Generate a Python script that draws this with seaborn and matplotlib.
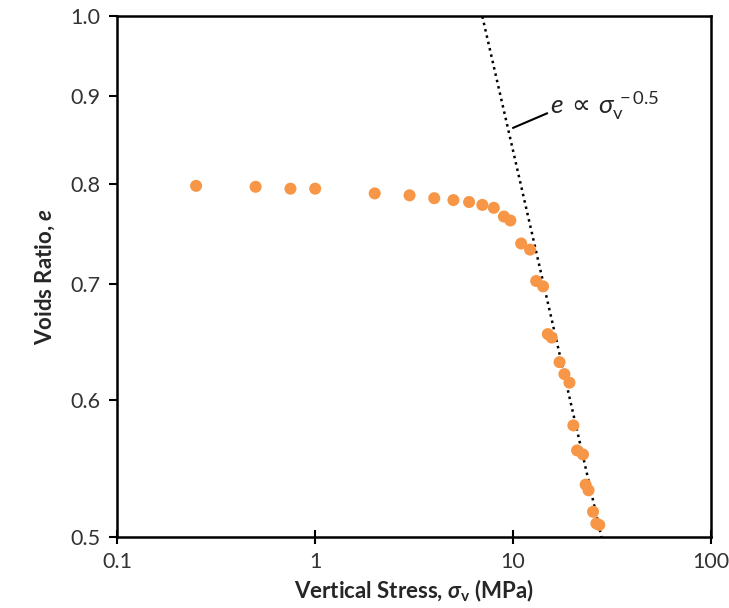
#!/usr/bin/env python3
import numpy as np
import pandas as pd
import matplotlib
matplotlib.use("Agg")
import matplotlib.pyplot as plt
from matplotlib.ticker import FixedLocator, FixedFormatter, NullLocator
import seaborn as sns

# Compression data
stress_mpa = [0.25, 0.5, 0.75, 1.0, 2.0, 3.0, 4.0, 5.0, 6.0, 7.0, 8.0, 9.0, 9.7,
              11.0, 12.2, 13.1, 14.2, 15.0, 15.7, 17.2, 18.2, 19.3, 20.2, 21.1,
              22.6, 23.3, 24.1, 25.4, 26.4, 27.3]
voids_ratio = [0.798, 0.797, 0.795, 0.795, 0.790, 0.788, 0.785, 0.783, 0.781, 0.778,
               0.775, 0.766, 0.762, 0.739, 0.733, 0.703, 0.698, 0.655, 0.652, 0.631,
               0.621, 0.614, 0.580, 0.561, 0.558, 0.536, 0.532, 0.517, 0.509, 0.508]

# Power law guide: e = 1.0 at about 7 MPa, slope -0.5
fit_ref_stress = 7.0
fit_exponent = -0.5
fit_stress = [7.0, 28.0]

# leader line for the label (stress, e)
leader_stress = [10.0, 14.9]
leader_e = [0.862, 0.879]

x_ticks = [0.1, 1, 10, 100]
x_tick_labels = ["0.1", "1", "10", "100"]
y_ticks = [0.5, 0.6, 0.7, 0.8, 0.9, 1.0]
y_tick_labels = ["0.5", "0.6", "0.7", "0.8", "0.9", "1.0"]

sns.set_style("ticks")
plt.rcParams["font.family"] = ["Lato", "DejaVu Sans"]
plt.rcParams["mathtext.fontset"] = "custom"
plt.rcParams["mathtext.rm"] = "Lato"
plt.rcParams["mathtext.it"] = "Lato:italic"
plt.rcParams["mathtext.bf"] = "Lato:bold"
plt.rcParams["mathtext.bfit"] = "Lato:bold:italic"

df = pd.DataFrame({"stress": stress_mpa, "e": voids_ratio})

fig = plt.figure(figsize=(7.29, 6.08), dpi=100)
ax = fig.add_axes([0.161, 0.117, 0.814, 0.856])

# dotted power-law line
fs = np.geomspace(fit_stress[0], fit_stress[1], 50)
fe = (fs / fit_ref_stress) ** fit_exponent
ax.plot(fs, fe, color="black", linestyle=(0, (1, 1.6)), linewidth=1.8, zorder=2)

sns.scatterplot(data=df, x="stress", y="e", ax=ax, color="#F79646", s=75,
                edgecolor="none", zorder=3)

ax.set_xscale("log")
ax.set_yscale("log")
ax.set_xlim(0.1, 100)
ax.set_ylim(0.5, 1.0)

ax.xaxis.set_major_locator(FixedLocator(x_ticks))
ax.xaxis.set_major_formatter(FixedFormatter(x_tick_labels))
ax.xaxis.set_minor_locator(NullLocator())
ax.yaxis.set_major_locator(FixedLocator(y_ticks))
ax.yaxis.set_major_formatter(FixedFormatter(y_tick_labels))
ax.yaxis.set_minor_locator(NullLocator())

ax.tick_params(axis="x", direction="inout", length=10, width=1.5, labelsize=15.5,
               colors="black", labelcolor="#333333", pad=6)
ax.tick_params(axis="y", direction="out", length=6, width=1.5, labelsize=15.5,
               colors="black", labelcolor="#333333", pad=6)
for sp in ax.spines.values():
    sp.set_linewidth(1.8)
    sp.set_color("black")

ax.set_xlabel(r"Vertical Stress, $\mathbfit{\sigma}_\mathbf{v}$ (MPa)", fontsize=16,
              fontweight="bold", labelpad=4)
ax.set_ylabel(r"Voids Ratio, $\mathbfit{e}$", fontsize=16, fontweight="bold", labelpad=10)

# label for the power-law guide
ax.plot(leader_stress, leader_e, color="black", lw=1.5, zorder=2)
ax.text(15.3, 0.889, r"$e$ ∝ $\sigma_\mathrm{v}^{\,-0.5}$", fontsize=19,
        va="center", ha="left", family=["DejaVu Sans"])

ax.set_facecolor("white")
fig.savefig("out.png", dpi=100, facecolor="white")
